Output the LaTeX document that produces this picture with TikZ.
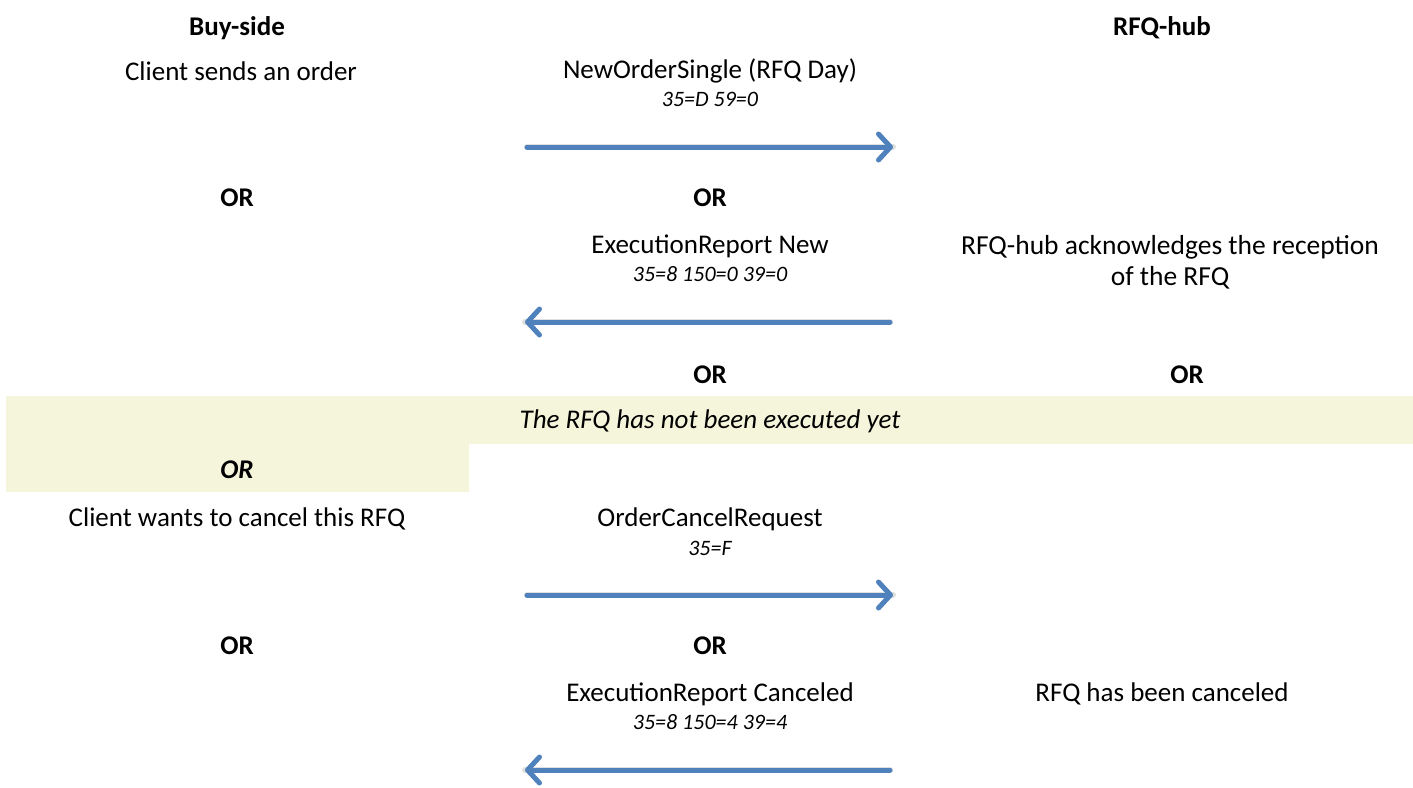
\documentclass[tikz,border=0pt]{standalone}
\usepackage{fontspec}
\setmainfont{Carlito}
\usetikzlibrary{arrows.meta}
\definecolor{arrowblue}{HTML}{4F81BD}
\definecolor{bandyellow}{HTML}{F4F5DB}
\tikzset{
  txt/.style={inner sep=0pt, anchor=center, font=\fontsize{27}{31}\selectfont},
  hdr/.style={txt, font=\fontsize{27}{31}\selectfont\bfseries},
  code/.style={inner sep=0pt, anchor=center, font=\fontsize{22}{26}\selectfont\itshape},
  msg/.style={draw=arrowblue, line width=5pt, line cap=round,
    -{Straight Barb[length=12pt, width=26pt, line width=5pt, round]}},
  shadowline/.style={draw=black!25, line width=6pt, line cap=round, opacity=0.5},
}
\begin{document}
\begin{tikzpicture}[x=1pt, y=-1pt]
\useasboundingbox (0,0) rectangle (1413,787);
% band
\fill[bandyellow] (6,396) -- (1413,396) -- (1413,444) -- (469,444) -- (469,492) -- (6,492) -- cycle;
\node[txt, font=\fontsize{27}{31}\selectfont\itshape] (band) at (710,421) {The RFQ has not been executed yet};
% headers
\node[hdr] (buy) at (237,28) {Buy-side};
\node[hdr] (hub) at (1162,28) {RFQ-hub};
% row 1
\node[txt] (c1) at (241,71) {Client sends an order};
\node[txt] (m1) at (710,71) {NewOrderSingle (RFQ Day)};
\node[code] (k1) at (710,99) {35=D 59=0};
\coordinate (a1s) at (527,147); \coordinate (a1e) at (893,147);
\node[hdr] (or1) at (237,198) {OR};
\node[hdr] (or2) at (710,198) {OR};
% row 2
\node[txt] (m2) at (710,246) {ExecutionReport New};
\node[code] (k2) at (710,274) {35=8 150=0 39=0};
\node[txt, align=center, font=\fontsize{27.5}{31}\selectfont] (h2) at (1170,262) {RFQ-hub acknowledges the reception\\of the RFQ};
\coordinate (a2s) at (890,322); \coordinate (a2e) at (525,322);
\node[hdr] (or3) at (710,375) {OR};
\node[hdr] (or4) at (1187,375) {OR};
% lower
\node[hdr, font=\fontsize{27}{31}\selectfont\bfseries\itshape] (or5) at (237,470) {OR};
\node[txt] (c3) at (237,519) {Client wants to cancel this RFQ};
\node[txt] (m3) at (710,519) {OrderCancelRequest};
\node[code] (k3) at (710,548) {35=F};
\coordinate (a3s) at (527,595); \coordinate (a3e) at (893,595);
\node[hdr] (or6) at (237,646) {OR};
\node[hdr] (or7) at (710,646) {OR};
\node[txt] (m4) at (710,694) {ExecutionReport Canceled};
\node[code] (k4) at (710,722) {35=8 150=4 39=4};
\node[txt] (h4) at (1162,694) {RFQ has been canceled};
\coordinate (a4s) at (890,770); \coordinate (a4e) at (525,770);
% arrows
\foreach \s/\e in {a1s/a1e, a2s/a2e, a3s/a3e, a4s/a4e}{
  \draw[shadowline, shift={(1pt,-3pt)}] (\s) -- (\e);
  \draw[msg] (\s) -- (\e);
}
\end{tikzpicture}
\end{document}
